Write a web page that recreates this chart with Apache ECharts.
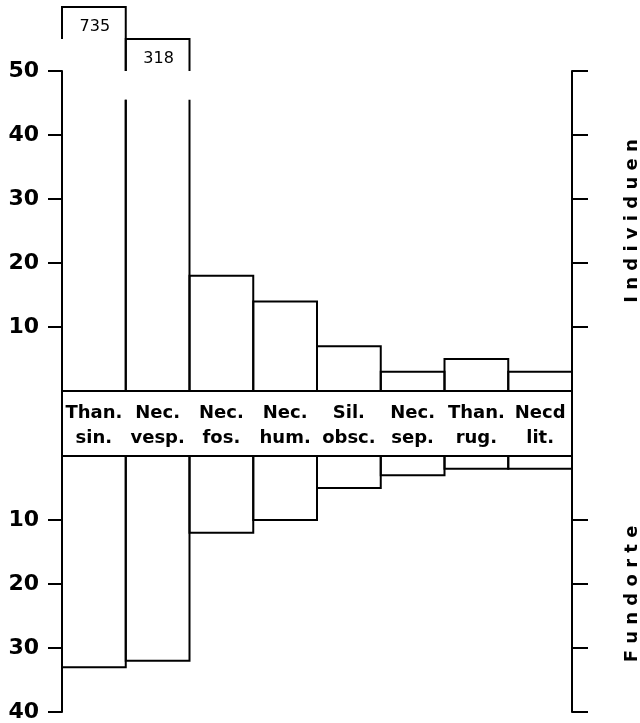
<!DOCTYPE html>
<html>
<head>
<meta charset="utf-8">
<script src="https://cdn.jsdelivr.net/npm/echarts@6/dist/echarts.min.js"></script>
<style>
  html, body { margin: 0; padding: 0; background: #fff; }
  #chart { width: 640px; height: 723px; }
</style>
</head>
<body>
<div id="chart"></div>
<script>
// beetle species (genus / species abbreviations)
const genus = ["Than.", "Nec.", "Nec.", "Nec.", "Sil.", "Nec.", "Than.", "Necd"];
const species = ["sin.", "vesp.", "fos.", "hum.", "obsc.", "sep.", "rug.", "lit."];

// upper panel: number of individuals, lower panel: number of sites
const individuals = [735, 318, 18, 14, 7, 3, 5, 3];
const sites = [33, 32, 12, 10, 5, 3, 2, 2];

const topTicks = [10, 20, 30, 40, 50];
const bottomTicks = [10, 20, 30, 40];
const topTitle = "Individuen";
const bottomTitle = "Fundorte";

const FONT = "DejaVu Sans";
const TOP_MAX = 50;
const BREAK_LOW = 45.5;   // where the broken bars are cut
const BREAK_STEP = 5;     // height of each stacked "overflow" box

const categories = genus.map((g, i) => g + "\n" + species[i]);
const spaced = s => s.split("").join(" ");
const lineStyle = { stroke: "#000", lineWidth: 2, fill: "none" };

//plain open box: two sides and the far end, the base line is the label box
function renderBar(params, api) {
    const i = api.value(0);
    const v = api.value(1);
    const w = api.size([1, 0])[0];
    const base = api.coord([i, 0]);
    const x0 = base[0] - w / 2, x1 = base[0] + w / 2, y0 = base[1];

    if (v <= TOP_MAX) {
        const yt = api.coord([i, v])[1];
        return {
            type: "polyline",
            shape: { points: [[x0, y0], [x0, yt], [x1, yt], [x1, y0]] },
            style: lineStyle
        };
    }

    //bars higher than the axis get a break and a stepped cap with the value
    const rank = individuals.filter(d => d > TOP_MAX && d <= v).length;
    const shown = TOP_MAX + BREAK_STEP * rank;
    const yb = api.coord([i, BREAK_LOW])[1];
    const ym = api.coord([i, TOP_MAX])[1];
    const yt = api.coord([i, shown])[1];
    const yl = api.coord([i, shown - BREAK_STEP])[1];
    const yLabel = api.coord([i, shown - BREAK_STEP * 0.62])[1];

    return {
        type: "group",
        children: [
            { type: "polyline", shape: { points: [[x0, y0], [x0, yb]] }, style: lineStyle },
            { type: "polyline", shape: { points: [[x1, y0], [x1, yb]] }, style: lineStyle },
            { type: "polyline", shape: { points: [[x0, yl], [x0, yt], [x1, yt], [x1, ym]] }, style: lineStyle },
            {
                type: "text", x: base[0] + 1, y: yLabel,
                style: { text: String(v), fontSize: 16, fontFamily: FONT, fill: "#000", align: "center", verticalAlign: "middle" }
            }
        ]
    };
}

function valueAxis(grid, side, max, ticks, inverse, showLabels) {
    return {
        type: "value",
        gridIndex: grid,
        position: side,
        z: 5,
        min: 0,
        max: max,
        interval: 10,
        inverse: inverse,
        splitLine: { show: false },
        axisLine: { show: true, lineStyle: { color: "#000", width: 2 } },
        axisTick: { show: true, customValues: ticks, length: side === "left" ? 14 : 16, lineStyle: { color: "#000", width: 2 } },
        axisLabel: {
            show: showLabels,
            customValues: ticks,
            margin: 23,
            color: "#000",
            fontFamily: FONT,
            fontWeight: "bold",
            fontSize: 22
        }
    };
}

const chart = echarts.init(document.getElementById("chart"), null, { renderer: "canvas" });

const option = {
    animation: false,
    backgroundColor: "#fff",
    grid: [
        { left: 62, right: 68, top: 71, height: 320 },
        { left: 62, right: 68, top: 456, height: 256 }
    ],
    xAxis: [
        {
            type: "category", gridIndex: 0, data: categories, position: "bottom",
            axisLine: { show: false }, axisTick: { show: false },
            axisLabel: {
                interval: 0, margin: 10, color: "#000", fontFamily: FONT,
                fontWeight: "bold", fontSize: 18, lineHeight: 25
            }
        },
        {
            type: "category", gridIndex: 1, data: categories, position: "top",
            axisLine: { show: false }, axisTick: { show: false }, axisLabel: { show: false }
        }
    ],
    yAxis: [
        valueAxis(0, "left", 50, topTicks, false, true),
        valueAxis(0, "right", 50, topTicks, false, false),
        valueAxis(1, "left", 40, bottomTicks, true, true),
        valueAxis(1, "right", 40, bottomTicks, true, false)
    ],
    series: [
        {
            type: "custom",
            xAxisIndex: 0,
            yAxisIndex: 0,
            clip: false,
            renderItem: renderBar,
            encode: { x: 0, y: 1 },
            data: individuals.map((v, i) => [i, v])
        },
        {
            type: "custom",
            xAxisIndex: 1,
            yAxisIndex: 2,
            clip: false,
            renderItem: renderBar,
            encode: { x: 0, y: 1 },
            data: sites.map((v, i) => [i, v])
        }
    ],
    graphic: [
        {
            type: "rect", z: 100,
            shape: { x: 62, y: 391, width: 510, height: 65 },
            style: { fill: "none", stroke: "#000", lineWidth: 2 }
        },
        {
            type: "text", x: 632, y: 221, rotation: Math.PI / 2,
            style: { text: spaced(topTitle), fontFamily: FONT, fontWeight: "bold", fontSize: 18, fill: "#000", align: "center", verticalAlign: "middle" }
        },
        {
            type: "text", x: 632, y: 594, rotation: Math.PI / 2,
            style: { text: spaced(bottomTitle), fontFamily: FONT, fontWeight: "bold", fontSize: 18, fill: "#000", align: "center", verticalAlign: "middle" }
        }
    ]
};

chart.setOption(option);
</script>
</body>
</html>
